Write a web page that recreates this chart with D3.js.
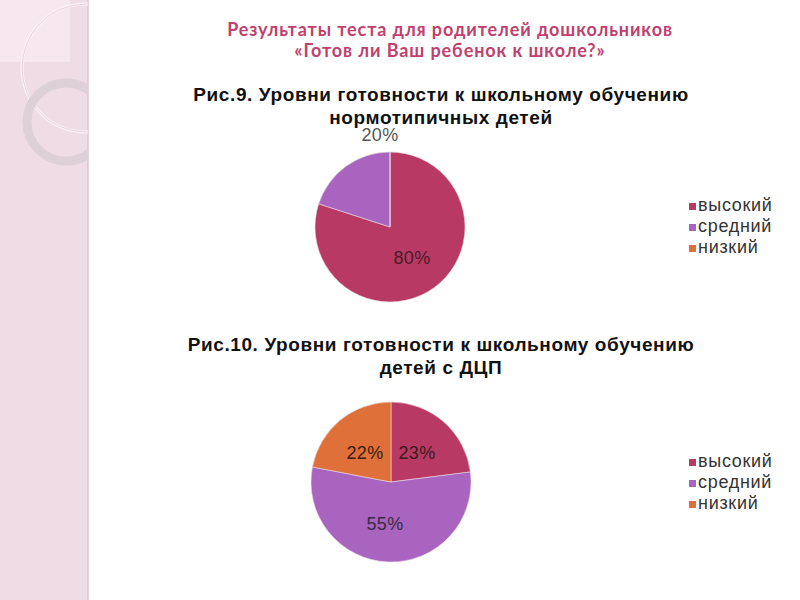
<!DOCTYPE html>
<html><head><meta charset="utf-8">
<script src="https://cdn.jsdelivr.net/npm/d3@7"></script>
<style>body{margin:0;background:#fff}</style></head>
<body><svg id="c" width="800" height="600"></svg>
<script>
const categories = ["высокий", "средний", "низкий"];
const colors = ["#b83a64", "#a964c0", "#e0703a"];
const chart1Values = [80, 20, 0];
const chart2Values = [23, 55, 22];
const chart1Title = ["Рис.9. Уровни готовности к школьному обучению", "нормотипичных детей"];
const chart2Title = ["Рис.10. Уровни готовности к школьному обучению", "детей с ДЦП"];
const mainTitle = ["Результаты теста для родителей дошкольников", "«Готов ли Ваш ребенок к школе?»"];

const svg = d3.select("#c");
svg.append("rect").attr("x",0).attr("y",0).attr("width",88).attr("height",600).attr("fill","#f0dce5");
svg.append("line").attr("x1",88).attr("x2",88).attr("y1",0).attr("y2",600).attr("stroke","#dcc4cf").attr("stroke-width",1.5);
svg.append("rect").attr("x",0).attr("y",0).attr("width",70).attr("height",62).attr("fill","#f6e8ee");
svg.append("clipPath").attr("id","strip").append("rect").attr("width",88).attr("height",600);
const dg = svg.append("g").attr("clip-path","url(#strip)");
dg.append("circle").attr("cx",86).attr("cy",68).attr("r",64).attr("fill","none").attr("stroke","#fbf2f6").attr("stroke-width",3);
dg.append("circle").attr("cx",86).attr("cy",68).attr("r",64).attr("fill","none").attr("stroke","#e2c9d4").attr("stroke-width",0.8);
dg.append("circle").attr("cx",66).attr("cy",122).attr("r",39).attr("fill","none").attr("stroke","#ddd0d6").attr("stroke-width",9);

svg.selectAll("text.mt").data(mainTitle).enter().append("text")
  .attr("x",450).attr("y",(d,i)=>36+i*21).attr("text-anchor","middle")
  .attr("font-family","Lato, 'Open Sans', sans-serif").attr("font-weight","bold").attr("font-size",18)
  .attr("letter-spacing",0.9).attr("fill","#c0406e").text(d=>d);

function pie(values, title, cx, cy, r, ty, ly, labels) {
  svg.selectAll(null).data(title).enter().append("text")
    .attr("x",441).attr("y",(d,i)=>ty+i*23).attr("text-anchor","middle")
    .attr("font-family","'Liberation Sans', Arial, sans-serif").attr("font-weight","bold").attr("font-size",19)
    .attr("letter-spacing",0.6).attr("fill","#111").text(d=>d);
  const arcs = d3.pie().sort(null)(values);
  const arc = d3.arc().innerRadius(0).outerRadius(r);
  const g = svg.append("g").attr("transform",`translate(${cx},${cy})`);
  g.selectAll("path").data(arcs).enter().append("path")
    .attr("d",arc).attr("fill",(d,i)=>colors[i]).attr("stroke","#e8d8e0").attr("stroke-width",0.6);
  labels.forEach(l=>{
    g.append("text").attr("x",l.x).attr("y",l.y).attr("text-anchor","middle")
     .attr("font-family","'Liberation Sans', Arial, sans-serif").attr("font-size",18)
     .attr("letter-spacing",0.4).attr("fill",l.c).text(values[l.i]+"%");
  });
  const lg = svg.append("g").attr("transform",`translate(689,${ly})`);
  categories.forEach((c,i)=>{
    lg.append("rect").attr("x",0).attr("y",i*21-8).attr("width",7).attr("height",7).attr("fill",colors[i]);
    lg.append("text").attr("x",9).attr("y",i*21).attr("font-family","'Liberation Sans', Arial, sans-serif")
      .attr("font-size",18).attr("letter-spacing",0.7).attr("fill","#333").text(c);
  });
}
pie(chart1Values, chart1Title, 390, 227, 75, 101, 211,
  [{i:0,x:22,y:37,c:"#4a1a2a"},{i:1,x:-10,y:-86,c:"#555"}]);
pie(chart2Values, chart2Title, 391, 482, 80, 351, 467,
  [{i:0,x:26,y:-23,c:"#3a1a20"},{i:1,x:-6,y:48,c:"#3a2a40"},{i:2,x:-26,y:-23,c:"#3a2010"}]);
</script></body></html>
